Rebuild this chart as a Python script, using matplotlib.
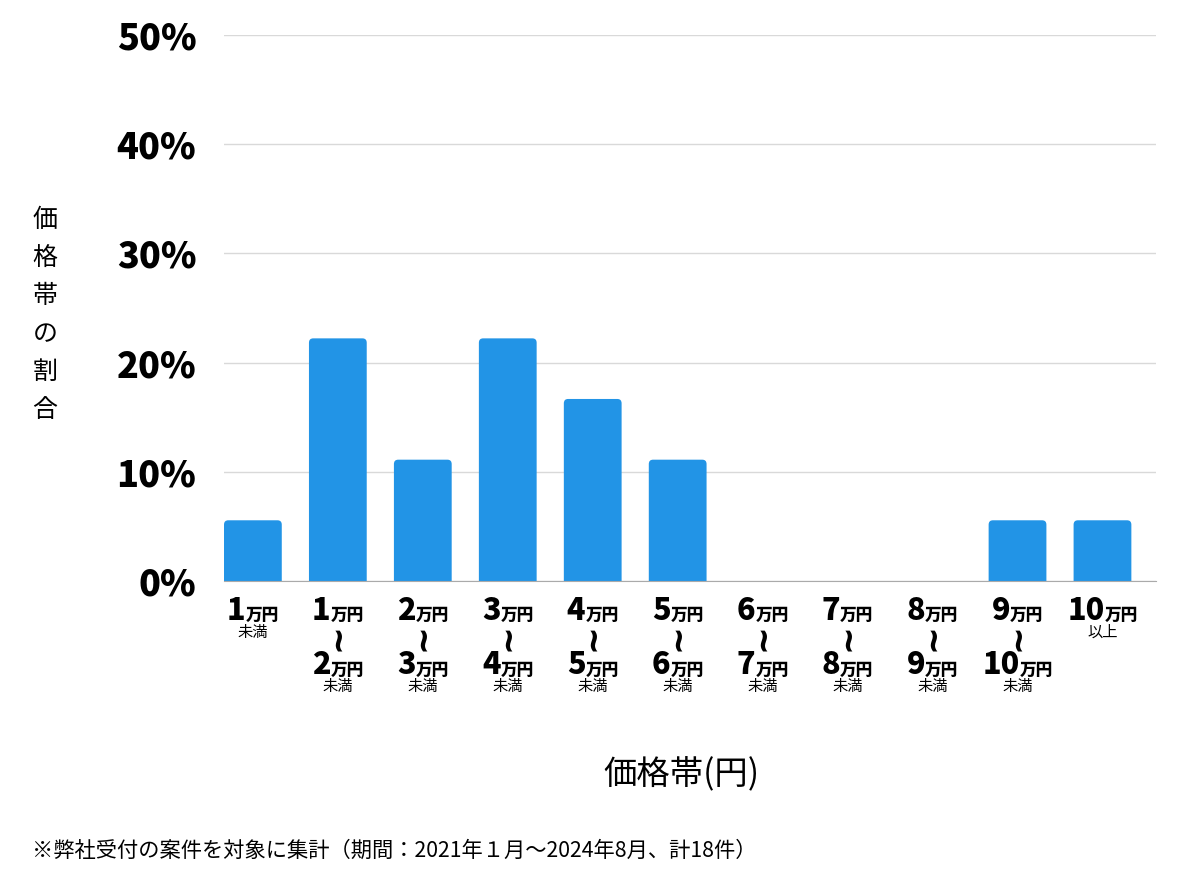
import matplotlib.pyplot as plt
from matplotlib.offsetbox import TextArea, HPacker, AnnotationBbox
from matplotlib.patches import FancyBboxPatch

plt.rcParams['font.family'] = ['Noto Sans CJK JP', 'DejaVu Sans']

# ------------------------------------------------------------
# data (18 cases total)
lower = ['1', '1', '2', '3', '4', '5', '6', '7', '8', '9', '10']
upper = [None, '2', '3', '4', '5', '6', '7', '8', '9', '10', None]
suffix = ['未満', '未満', '未満', '未満', '未満', '未満', '未満', '未満', '未満', '未満', '以上']
share = [5.56, 22.22, 11.11, 22.22, 16.67, 11.11, 0, 0, 0, 5.56, 5.56]
yticks = [0, 10, 20, 30, 40, 50]
# ------------------------------------------------------------

fig = plt.figure(figsize=(12, 8.74), dpi=100)
ax = fig.add_axes([224 / 1200, 1 - 581 / 874, 932 / 1200, 546 / 874])

x = list(range(len(share)))
bars = ax.bar(x, share, width=0.68, color='#2294e6', zorder=3)

ax.set_xlim(-0.34, 10.63)
ax.set_ylim(0, 50)

# rounded top corners: swap each bar for a rounded box that dips below 0
for r in bars:
    r.set_visible(False)
    if r.get_height() <= 0:
        continue
    p = FancyBboxPatch((r.get_x(), -1), r.get_width(), r.get_height() + 1,
                       boxstyle='round,pad=0,rounding_size=0.05',
                       mutation_aspect=8.0, facecolor='#2294e6',
                       edgecolor='none', zorder=3)
    ax.add_patch(p)

ax.set_yticks(yticks)
ax.set_yticklabels([f'{v}%' for v in yticks], fontsize=26, fontweight='heavy')
ax.tick_params(axis='y', length=0, pad=20)
ax.tick_params(axis='x', length=0, labelbottom=False)
ax.grid(axis='y', color='#d9d9d9', linewidth=1, zorder=0)
for s in ['top', 'right', 'left']:
    ax.spines[s].set_visible(False)
ax.spines['bottom'].set_color('#aaaaaa')
ax.spines['bottom'].set_zorder(4)


def price(i, num, dy):
    a = TextArea(num, textprops=dict(fontsize=22, fontweight='heavy'))
    b = TextArea('万円', textprops=dict(fontsize=12, fontweight='heavy'))
    box = HPacker(children=[a, b], align='baseline', pad=0, sep=0)
    ab = AnnotationBbox(box, (i, 0), xycoords=('data', 'axes fraction'),
                        xybox=(0, -dy), boxcoords='offset pixels',
                        box_alignment=(0.5, 0.5), frameon=False)
    ax.add_artist(ab)


def small(i, s, dy, **kw):
    ax.annotate(s, (i, 0), xycoords=('data', 'axes fraction'),
                xytext=(0, -dy), textcoords='offset pixels',
                ha='center', va='center', **kw)


for i in x:
    price(i, lower[i], 29)
    if upper[i] is None:
        small(i, suffix[i], 51, fontsize=11)
    else:
        small(i, '~', 56, fontsize=24, fontweight='bold', rotation=90, family='DejaVu Sans')
        price(i, upper[i], 84)
        small(i, suffix[i], 105, fontsize=11)

fig.text(45 / 1200, 1 - 315 / 874, '価\n格\n帯\nの\n割\n合', fontsize=18,
         ha='center', va='center', linespacing=1.6)
fig.text(681 / 1200, 1 - 775 / 874, '価格帯(円)', fontsize=24, ha='center', va='center')
fig.text(32 / 1200, 1 - 851 / 874,
         '※弊社受付の案件を対象に集計（期間：2021年１月～2024年8月、計18件）',
         fontsize=15.3, ha='left', va='center')

fig.savefig('out.png', dpi=100)
